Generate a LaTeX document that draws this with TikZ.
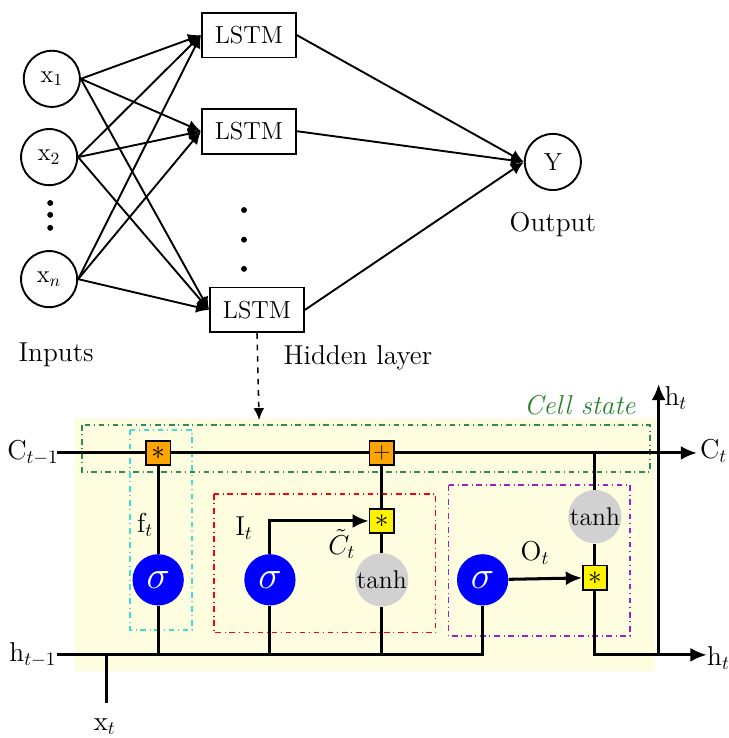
\documentclass[tikz,border=0pt]{standalone}
\usetikzlibrary{arrows.meta}
\definecolor{cellgreen}{RGB}{46,139,87}
\definecolor{statetext}{RGB}{40,130,40}
\definecolor{fgate}{RGB}{64,224,208}
\definecolor{ogate}{RGB}{160,32,200}
\definecolor{opfill}{RGB}{255,165,0}
\begin{document}
\begin{tikzpicture}[
  neuron/.style={draw,circle,line width=1pt,minimum size=1.04cm,inner sep=0pt,font=\fontsize{13}{15}\selectfont},
  lstm/.style={draw,line width=1pt,minimum width=1.74cm,minimum height=0.83cm,font=\fontsize{13}{15}\selectfont},
  gate/.style={circle,fill=blue,minimum size=0.95cm,inner sep=0pt,text=white,font=\huge},
  act/.style={circle,fill=black!18,minimum size=0.95cm,inner sep=0pt,font=\fontsize{13.5}{15}\selectfont},
  op/.style={draw,thick,minimum size=0.45cm,inner sep=0pt,font=\Large},
  bus/.style={line width=1.6pt},
  frame/.style={dash dot,thick},
  lbl/.style={font=\Large,inner sep=1pt},
  feed/.style={-{Latex[length=2.4mm,width=2.2mm]},line width=1pt},
  flow/.style={-{Latex[length=3mm,width=2.6mm]}}
]
\useasboundingbox (0,0) rectangle (13.5,-13.67);

% inputs
\node[neuron] (x1) at (0.96,-1.46) {x$_1$};
\node[neuron] (x2) at (0.91,-2.91) {x$_2$};
\node[neuron] (xn) at (0.91,-5.17) {x$_n$};
\fill (0.93,-3.76) circle (0.055);
\fill (0.93,-3.98) circle (0.055);
\fill (0.93,-4.22) circle (0.055);

% hidden layer
\node[lstm] (h1) at (4.61,-0.65) {LSTM};
\node[lstm] (h2) at (4.61,-2.43) {LSTM};
\node[lstm] (h3) at (4.76,-5.74) {LSTM};
\fill (4.52,-3.89) circle (0.055);
\fill (4.52,-4.44) circle (0.055);
\fill (4.52,-4.98) circle (0.055);

% output
\node[neuron] (y) at (10.24,-3.0) {Y};

\foreach \i in {x1,x2,xn}
  \foreach \j in {h1,h2,h3}
    \draw[feed] (\i.east) -- (\j.west);
\foreach \j in {h1,h2,h3}
  \draw[feed] (\j.east) -- (y.west);

\node[lbl] (inp) at (1.04,-6.57) {Inputs};
\node[lbl] (hid) at (6.63,-6.63) {Hidden layer};
\node[lbl] (out) at (10.24,-4.15) {Output};

% cell
\fill[yellow!12] (1.37,-7.74) rectangle (12.13,-12.43);
\coordinate (top) at (4.80,-7.78);
\draw[-{Latex[length=2.2mm,width=2mm]},thick,dashed] (h3.south) -- (top);

\draw[frame,cellgreen] (1.52,-7.87) rectangle (12.04,-8.74);
\draw[frame,fgate] (2.41,-7.96) rectangle (3.56,-11.67);
\draw[frame,red] (3.96,-9.15) rectangle (8.07,-11.72);
\draw[frame,ogate] (8.31,-8.98) rectangle (11.67,-11.78);
\node[lbl,statetext,font=\Large\itshape] (cs) at (10.74,-7.50) {Cell state};

\node[op,fill=opfill] (m1) at (2.93,-8.39) {$*$};
\node[op,fill=opfill,font=\large] (a1) at (7.07,-8.39) {$+$};
\node[gate] (s1) at (2.93,-10.74) {$\sigma$};
\node[gate] (s2) at (5.0,-10.74) {$\sigma$};
\node[op,fill=yellow] (m2) at (7.07,-9.65) {$*$};
\node[act] (t1) at (7.07,-10.74) {tanh};
\node[gate] (s3) at (8.94,-10.74) {$\sigma$};
\node[op,fill=yellow] (m3) at (11.02,-10.70) {$*$};
\node[act] (t2) at (11.02,-9.57) {tanh};

\node[lbl] (cin) at (0.61,-8.39) {C$_{t-1}$};
\node[lbl] (cout) at (13.22,-8.35) {C$_t$};
\node[lbl] (hin) at (0.61,-12.13) {h$_{t-1}$};
\node[lbl] (hout) at (13.31,-12.19) {h$_t$};
\node[lbl] (hup) at (12.52,-7.37) {h$_t$};
\node[lbl] (xt) at (1.94,-13.46) {x$_t$};
\node[lbl] (ft) at (2.69,-9.72) {f$_t$};
\node[lbl] (it) at (4.52,-9.78) {I$_t$};
\node[lbl] (ct) at (6.33,-10.07) {$\tilde{C}_t$};
\node[lbl] (ot) at (9.91,-10.24) {O$_t$};

\coordinate (c0) at (1.06,-8.39);
\coordinate (c1) at (12.91,-8.39);
\coordinate (b0) at (1.06,-12.13);
\coordinate (b1) at (13.09,-12.13);
\coordinate (u0) at (12.20,-12.13);
\coordinate (u1) at (12.20,-7.11);
\coordinate (x0) at (1.98,-12.13);
\coordinate (xb) at (1.98,-13.02);

\draw[bus,flow] (c0) -- (m1) -- (a1) -- (c1);
\draw[bus] (s1) -- (m1);
\draw[bus] (b0) -- (s3 |- b0) -- (s3);
\draw[bus] (s1) -- (s1 |- b0);
\draw[bus] (s2) -- (s2 |- b0);
\draw[bus] (t1) -- (t1 |- b0);
\draw[bus,flow] (s2) |- (m2);
\draw[bus] (t1) -- (m2);
\draw[bus] (m2) -- (a1);
\draw[bus,flow] (s3) -- (m3);
\draw[bus] (t2) -- (m3);
\draw[bus] (t2) -- (t2 |- c1);
\draw[bus,flow] (m3) |- (b1);
\draw[bus,flow] (u0) -- (u1);
\draw[bus] (x0) -- (xb);

\end{tikzpicture}
\end{document}
